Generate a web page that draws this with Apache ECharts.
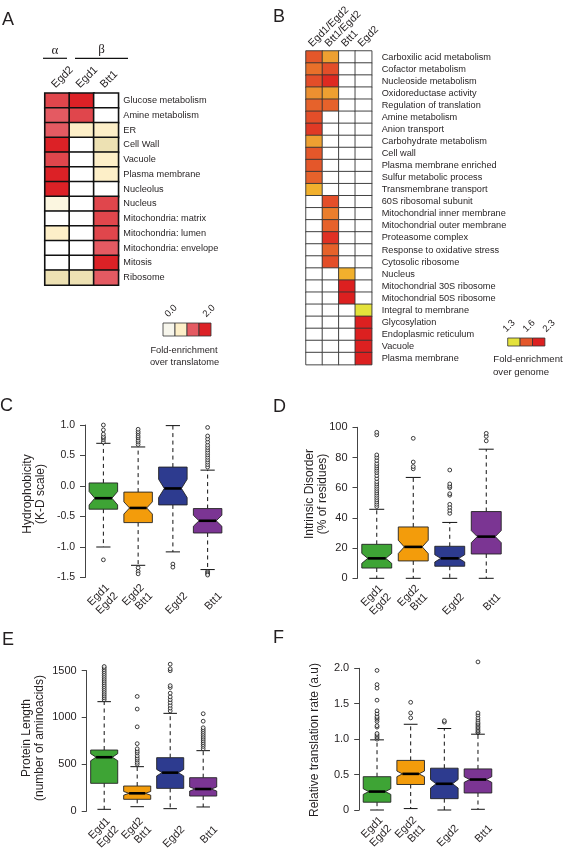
<!DOCTYPE html>
<html>
<head>
<meta charset="utf-8">
<script src="https://cdn.jsdelivr.net/npm/echarts@6/dist/echarts.min.js"></script>
<style>
html,body{margin:0;padding:0;background:#fff;}
#chart{width:565px;height:861px;}
</style>
</head>
<body>
<div id="chart"></div>
<script>
// ---------------- DATA ----------------
// Panel A: fold-enrichment over translatome (0 = not enriched / blank)
const aCols = ['Egd2', 'Egd1', 'Btt1'];
const aRows = ['Glucose metabolism', 'Amine metabolism', 'ER', 'Cell Wall', 'Vacuole', 'Plasma membrane',
  'Nucleolus', 'Nucleus', 'Mitochondria: matrix', 'Mitochondria: lumen', 'Mitochondria: envelope', 'Mitosis', 'Ribosome'];
const aEgd2 = [1.7, 1.4, 1.4, 2.2, 1.7, 2.2, 2.2, 0.2, 0, 0.5, 0, 0, 0.8];
const aEgd1 = [2.2, 1.7, 0.5, 0, 0, 0, 0, 0, 0, 0, 0, 0, 0.8];
const aBtt1 = [0, 0, 0.5, 0.8, 0.5, 0.5, 0, 1.7, 1.7, 1.7, 1.4, 2.2, 1.4];
const aLegendTicks = ['0.0', '2.0'];

// Panel B: fold-enrichment over genome (0 = blank)
const bCols = ['Egd1/Egd2', 'Btt1/Egd2', 'Btt1', 'Egd2'];
const bRows = ['Carboxilic acid metabolism', 'Cofactor metabolism', 'Nucleoside metabolism', 'Oxidoreductase activity',
  'Regulation of translation', 'Amine metabolism', 'Anion transport', 'Carbohydrate metabolism', 'Cell wall',
  'Plasma membrane enriched', 'Sulfur metabolic process', 'Transmembrane transport', '60S ribosomal subunit',
  'Mitochondrial inner membrane', 'Mitochondrial outer membrane', 'Proteasome complex', 'Response to oxidative stress',
  'Cytosolic ribosome', 'Nucleus', 'Mitochondrial 30S ribosome', 'Mitochondrial 50S ribosome', 'Integral to membrane',
  'Glycosylation', 'Endoplasmic reticulum', 'Vacuole', 'Plasma membrane'];
const bEgd1Egd2 = [1.62, 1.54, 1.7, 1.48, 1.57, 1.7, 1.9, 1.45, 1.62, 1.62, 1.57, 1.38, 0, 0, 0, 0, 0, 0, 0, 0, 0, 0, 0, 0, 0, 0];
const bBtt1Egd2 = [1.45, 1.7, 2.1, 1.45, 1.57, 0, 0, 0, 0, 0, 0, 0, 1.7, 1.52, 1.57, 1.95, 1.57, 1.7, 0, 0, 0, 0, 0, 0, 0, 0];
const bBtt1 = [0, 0, 0, 0, 0, 0, 0, 0, 0, 0, 0, 0, 0, 0, 0, 0, 0, 0, 1.38, 2.3, 2.3, 0, 0, 0, 0, 0];
const bEgd2 = [0, 0, 0, 0, 0, 0, 0, 0, 0, 0, 0, 0, 0, 0, 0, 0, 0, 0, 0, 0, 0, 1.3, 2.3, 2.3, 2.3, 2.3];
const bLegendTicks = ['1.3', '1.6', '2.3'];

// Box plots: categories
const boxCategories = ['Egd1\nEgd2', 'Egd2\nBtt1', 'Egd2', 'Btt1'];

// C: Hydrophobicity  [lowWhisker, Q1, median, Q3, highWhisker]
const hydroStats = [[-1.0, -0.38, -0.2, 0.05, 0.70], [-1.30, -0.60, -0.36, -0.10, 0.64],
  [-1.08, -0.31, -0.04, 0.31, 0.99], [-1.37, -0.77, -0.57, -0.37, 0.26]];
const hydroNotch = [0.11, 0.10, 0.15, 0.09];
const hydroOutliers = [
  [0.72, 0.76, 0.79, 0.81, 0.85, 0.92, 1.0, -1.21],
  [0.68, 0.72, 0.75, 0.79, 0.82, 0.86, 0.89, 0.93, -1.34, -1.40, -1.44],
  [-1.28, -1.33],
  [0.31, 0.35, 0.39, 0.43, 0.47, 0.51, 0.55, 0.59, 0.63, 0.67, 0.72, 0.77, 0.82, 0.96, -1.40, -1.42, -1.44, -1.46]];

// D: Intrinsic disorder
const disorderStats = [[0, 6.8, 13.2, 22.5, 45.7], [0, 11.5, 20.8, 34, 66.8], [0, 8, 13.2, 21.2, 37], [0, 16.1, 27.6, 44.2, 85.5]];
const disorderNotch = [3.3, 4.4, 2.4, 4.0];
const disorderOutliers = [
  [47.5, 49, 50.5, 52, 53.5, 55, 56.5, 58, 59.5, 61, 62.5, 64, 66, 68, 70, 71.5, 73, 74.5, 76, 78, 80, 81.7, 95, 96.7],
  [72.5, 74, 77, 92.7],
  [43, 45, 47, 49, 55, 56, 60, 61, 62.5, 71.7],
  [91, 94, 96]];

// E: Protein length
const lengthStats = [[18, 296, 575, 652, 1169], [46, 125, 189, 267, 474], [25, 242, 410, 570, 1044], [43, 160, 235, 356, 645]];
const lengthNotch = [38, 20, 35, 22];
const lengthOutliers = [
  [1190, 1210, 1230, 1250, 1270, 1290, 1310, 1330, 1350, 1370, 1390, 1410, 1430, 1450, 1470, 1490, 1510, 1530, 1545],
  [500, 520, 545, 565, 590, 620, 640, 665, 720, 900, 1090, 1225],
  [1070, 1100, 1130, 1160, 1190, 1220, 1260, 1320, 1340, 1500, 1520, 1570],
  [665, 690, 710, 730, 750, 770, 790, 810, 830, 850, 870, 890, 960, 1040]];

// F: Relative translation rate
const rateStats = [[0, 0.11, 0.26, 0.47, 0.99], [0.02, 0.36, 0.51, 0.70, 1.21], [0, 0.16, 0.37, 0.59, 1.15], [0.01, 0.24, 0.43, 0.58, 1.07]];
const rateNotch = [0.04, 0.04, 0.06, 0.04];
const rateOutliers = [
  [1.0, 1.02, 1.04, 1.06, 1.08, 1.17, 1.19, 1.25, 1.28, 1.30, 1.32, 1.36, 1.40, 1.55, 1.72, 1.77, 1.97],
  [1.30, 1.37, 1.52],
  [1.24, 1.26],
  [1.09, 1.10, 1.12, 1.14, 1.16, 1.18, 1.20, 1.22, 1.24, 1.27, 1.30, 1.34, 1.37, 2.09]];

// ---------------- STYLE ----------------
const FONT = "'Liberation Sans', Arial, Helvetica, sans-serif";
const TXT = '#231f20';
const boxFill = ['#3ea435', '#f39c0b', '#2d3b8f', '#7b3593'];
const aPieces = [
  {lt: 0.1, color: '#ffffff'},
  {gte: 0.1, lt: 0.35, color: '#fbf6e0'},
  {gte: 0.35, lt: 0.65, color: '#fdefc8'},
  {gte: 0.65, lt: 1.0, color: '#ede1b3'},
  {gte: 1.0, lt: 1.55, color: '#e45a62'},
  {gte: 1.55, lt: 1.9, color: '#e0464c'},
  {gte: 1.9, color: '#dc2126'}
];
const bPieces = [
  {lt: 1.0, color: '#ffffff'},
  {gte: 1.0, lt: 1.34, color: '#e4e23b'},
  {gte: 1.34, lt: 1.42, color: '#f1b02d'},
  {gte: 1.42, lt: 1.465, color: '#eea031'},
  {gte: 1.465, lt: 1.5, color: '#ec9030'},
  {gte: 1.5, lt: 1.53, color: '#eb7e2c'},
  {gte: 1.53, lt: 1.555, color: '#e8702a'},
  {gte: 1.555, lt: 1.6, color: '#e6622b'},
  {gte: 1.6, lt: 1.66, color: '#e4572a'},
  {gte: 1.66, lt: 1.8, color: '#e34e29'},
  {gte: 1.8, lt: 1.93, color: '#e03a25'},
  {gte: 1.93, lt: 2.0, color: '#df3124'},
  {gte: 2.0, lt: 2.2, color: '#de2a21'},
  {gte: 2.2, color: '#dc2020'}
];

// ---------------- BUILD ----------------
function heatData(cols) {
  const out = [];
  cols.forEach((col, ci) => col.forEach((v, ri) => out.push([ci, ri, v])));
  return out;
}

function boxSeries(gi, stats, notches) {
  return {
    type: 'custom', xAxisIndex: gi, yAxisIndex: gi, silent: true, clip: false,
    data: stats.map((s, i) => [i, s[0], s[1], s[2], s[3], s[4], notches[i]]),
    encode: {x: 0, y: [1, 2, 3, 4, 5]},
    renderItem: function (params, api) {
      const ci = api.value(0);
      const low = api.value(1), q1 = api.value(2), med = api.value(3), q3 = api.value(4), high = api.value(5), nh = api.value(6);
      const band = api.size([1, 0])[0];
      const hw = band * 0.41, iw = hw * 0.6, cap = hw * 0.5;
      const cx = api.coord([ci, med])[0];
      const y = v => api.coord([ci, v])[1];
      const dash = {stroke: '#111', lineWidth: 1, lineDash: [4, 3.5]};
      const solid = {stroke: '#111', lineWidth: 1};
      const pts = [[cx - hw, y(q3)], [cx + hw, y(q3)], [cx + hw, y(med + nh)], [cx + iw, y(med)], [cx + hw, y(med - nh)],
        [cx + hw, y(q1)], [cx - hw, y(q1)], [cx - hw, y(med - nh)], [cx - iw, y(med)], [cx - hw, y(med + nh)]];
      return {
        type: 'group',
        children: [
          {type: 'line', shape: {x1: cx, y1: y(q3), x2: cx, y2: y(high)}, style: dash},
          {type: 'line', shape: {x1: cx, y1: y(q1), x2: cx, y2: y(low)}, style: dash},
          {type: 'line', shape: {x1: cx - cap, y1: y(high), x2: cx + cap, y2: y(high)}, style: solid},
          {type: 'line', shape: {x1: cx - cap, y1: y(low), x2: cx + cap, y2: y(low)}, style: solid},
          {type: 'polygon', shape: {points: pts}, style: {fill: boxFill[ci], stroke: '#222', lineWidth: 0.9}},
          {type: 'line', shape: {x1: cx - iw, y1: y(med), x2: cx + iw, y2: y(med)}, style: {stroke: '#000', lineWidth: 2.6}}
        ]
      };
    }
  };
}

function outlierSeries(gi, outs) {
  const d = [];
  outs.forEach((arr, i) => arr.forEach(v => d.push([i, v])));
  return {
    type: 'scatter', xAxisIndex: gi, yAxisIndex: gi, data: d, clip: false, silent: true,
    symbol: 'circle', symbolSize: 3.8,
    itemStyle: {color: '#fff', borderColor: '#111', borderWidth: 1}, z: 3
  };
}

function boxX(gi, fs) {
  return {
    type: 'category', gridIndex: gi, data: boxCategories, boundaryGap: true,
    axisLine: {show: false}, axisTick: {show: false}, splitLine: {show: false},
    axisLabel: {rotate: 45, interval: 0, fontSize: fs, fontFamily: FONT, color: TXT, margin: 7, lineHeight: 12,
      align: 'right', verticalAlign: 'bottom', padding: [0, -2, -22, 0]}
  };
}
function boxY(gi, min, max, interval, fs, fmt) {
  return {
    type: 'value', gridIndex: gi, min: min, max: max, interval: interval, offset: 1,
    axisLine: {show: true, lineStyle: {color: '#444', width: 1}},
    axisTick: {show: true, length: 5, lineStyle: {color: '#444'}},
    splitLine: {show: false},
    axisLabel: {fontSize: fs, fontFamily: FONT, color: TXT, margin: 10, formatter: fmt}
  };
}

function txt(x, y, text, size, opts) {
  opts = opts || {};
  return {
    type: 'text', x: x, y: y, rotation: opts.rot || 0, silent: true,
    style: {text: text, fontSize: size, fontFamily: opts.family || FONT, fill: opts.fill || TXT,
      align: opts.align || 'center', verticalAlign: opts.va || 'middle', lineHeight: opts.lh || size * 1.15}
  };
}
function rect(x, y, w, h, fill) {
  return {type: 'rect', shape: {x: x, y: y, width: w, height: h}, silent: true,
    style: {fill: fill, stroke: '#333', lineWidth: 0.8}};
}
function line(x1, y1, x2, y2) {
  return {type: 'line', shape: {x1: x1, y1: y1, x2: x2, y2: y2}, silent: true, style: {stroke: '#111', lineWidth: 1.2}};
}

const R45 = Math.PI / 4;
const graphics = [
  txt(2, 20, 'A', 18, {align: 'left'}),
  txt(273, 17, 'B', 18, {align: 'left'}),
  txt(0, 406, 'C', 18, {align: 'left'}),
  txt(273, 407, 'D', 18, {align: 'left'}),
  txt(2, 640, 'E', 18, {align: 'left'}),
  txt(273, 638, 'F', 18, {align: 'left'}),
  // alpha / beta
  txt(55, 51, 'α', 13, {family: "'Liberation Serif', 'DejaVu Serif', serif"}),
  txt(101.5, 50, 'β', 13, {family: "'Liberation Serif', 'DejaVu Serif', serif"}),
  line(43, 58.3, 67, 58.3),
  line(75, 58.3, 128, 58.3),
  // legend A
  rect(163, 323, 12, 13, '#f7f6ec'),
  rect(175, 323, 12, 13, '#fdefc8'),
  rect(187, 323, 12, 13, '#e45a62'),
  rect(199, 323, 12, 13, '#dc2126'),
  txt(171, 311, aLegendTicks[0], 9.5, {rot: R45}),
  txt(209, 311, aLegendTicks[1], 9.5, {rot: R45}),
  txt(184, 350, 'Fold-enrichment', 9.3),
  txt(184.5, 362, 'over translatome', 9.3),
  // legend B
  rect(507.7, 338, 12.4, 8, '#e4e23b'),
  rect(520.1, 338, 12.4, 8, '#e4572a'),
  rect(532.5, 338, 12.4, 8, '#dc2020'),
  txt(509, 326, bLegendTicks[0], 9.5, {rot: R45}),
  txt(529, 326, bLegendTicks[1], 9.5, {rot: R45}),
  txt(549, 326, bLegendTicks[2], 9.5, {rot: R45}),
  txt(528, 359, 'Fold-enrichment', 9.6),
  txt(521, 372, 'over genome', 9.6),
  // y axis names
  txt(34, 494, 'Hydrophobicity\n(K-D scale)', 12, {rot: Math.PI / 2, lh: 13}),
  txt(316, 494, 'Intrinsic Disorder\n(% of residues)', 12, {rot: Math.PI / 2, lh: 13}),
  txt(33, 738, 'Protein Length\n(number of aminoacids)', 12, {rot: Math.PI / 2, lh: 13}),
  txt(315, 740, 'Relative translation rate (a.u)', 12, {rot: Math.PI / 2})
];

const option = {
  animation: false,
  backgroundColor: '#fff',
  textStyle: {fontFamily: FONT},
  grid: [
    {left: 45, top: 93.3, width: 73.3, height: 191.7},
    {left: 306, top: 51, width: 65.7, height: 313.6},
    {left: 86, top: 425, width: 139, height: 152.5},
    {left: 358.5, top: 427.3, width: 146, height: 151},
    {left: 87.7, top: 670.7, width: 132, height: 140.3},
    {left: 360.2, top: 668.3, width: 134.6, height: 141.7}
  ],
  xAxis: [
    {type: 'category', gridIndex: 0, data: aCols, position: 'top', axisLine: {show: false}, axisTick: {show: false},
      axisLabel: {rotate: -45, interval: 0, fontSize: 11, fontFamily: FONT, color: TXT, margin: 3,
        align: 'left', verticalAlign: 'bottom'}},
    {type: 'category', gridIndex: 1, data: bCols, position: 'top', axisLine: {show: false}, axisTick: {show: false},
      axisLabel: {rotate: -45, interval: 0, fontSize: 10.5, fontFamily: FONT, color: TXT, margin: 2,
        align: 'left', verticalAlign: 'bottom'}},
    boxX(2, 11), boxX(3, 11), boxX(4, 11), boxX(5, 11)
  ],
  yAxis: [
    {type: 'category', gridIndex: 0, data: aRows, inverse: true, position: 'right', axisLine: {show: false}, axisTick: {show: false},
      axisLabel: {interval: 0, fontSize: 9.2, fontFamily: FONT, color: TXT, margin: 5}},
    {type: 'category', gridIndex: 1, data: bRows, inverse: true, position: 'right', axisLine: {show: false}, axisTick: {show: false},
      axisLabel: {interval: 0, fontSize: 9.2, fontFamily: FONT, color: TXT, margin: 10}},
    boxY(2, -1.5, 1.0, 0.5, 10.5, v => v.toFixed(1)),
    boxY(3, 0, 100, 20, 11, v => String(v)),
    boxY(4, 0, 1500, 500, 11, v => String(v)),
    boxY(5, 0, 2.0, 0.5, 11, v => (v === 0 ? '0' : v.toFixed(1)))
  ],
  visualMap: [
    {type: 'piecewise', show: false, seriesIndex: 0, dimension: 2, pieces: aPieces},
    {type: 'piecewise', show: false, seriesIndex: 1, dimension: 2, pieces: bPieces}
  ],
  series: [
    {type: 'heatmap', xAxisIndex: 0, yAxisIndex: 0, data: heatData([aEgd2, aEgd1, aBtt1]), silent: true,
      itemStyle: {borderColor: '#111', borderWidth: 1.6}},
    {type: 'heatmap', xAxisIndex: 1, yAxisIndex: 1, data: heatData([bEgd1Egd2, bBtt1Egd2, bBtt1, bEgd2]), silent: true,
      itemStyle: {borderColor: '#333', borderWidth: 0.9}},
    boxSeries(2, hydroStats, hydroNotch), outlierSeries(2, hydroOutliers),
    boxSeries(3, disorderStats, disorderNotch), outlierSeries(3, disorderOutliers),
    boxSeries(4, lengthStats, lengthNotch), outlierSeries(4, lengthOutliers),
    boxSeries(5, rateStats, rateNotch), outlierSeries(5, rateOutliers)
  ],
  graphic: graphics
};

const chart = echarts.init(document.getElementById('chart'), null, {renderer: 'canvas'});
chart.setOption(option);
</script>
</body>
</html>
